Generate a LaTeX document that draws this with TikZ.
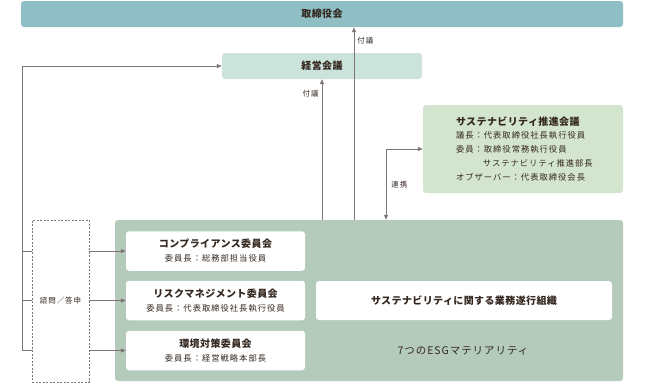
\documentclass[tikz,border=0pt]{standalone}
\usepackage{fontspec}
\setmainfont{Noto Sans CJK JP}
\newfontfamily\subfont{Noto Sans CJK JP}[LetterSpace=12]
\newfontfamily\ttlfont{Noto Sans CJK JP}[LetterSpace=4]
\newfontfamily\esgfont{Noto Sans CJK JP}[LetterSpace=9]
\usetikzlibrary{arrows.meta}
\definecolor{boardblue}{HTML}{8FBEC5}
\definecolor{mgmtgreen}{HTML}{CCE3DC}
\definecolor{councilgreen}{HTML}{D4E5CF}
\definecolor{orggreen}{HTML}{B4CBBB}
\definecolor{wire}{HTML}{7F7572}
\definecolor{ink}{HTML}{33271F}
\newcommand{\ttl}{\fontsize{10}{12}\ttlfont\bfseries}
\newcommand{\sub}{\fontsize{8.3}{10}\subfont}
\tikzset{
  box/.style={rounded corners=3pt, inner sep=0pt, text=ink, align=center},
  wbox/.style={box, fill=white, minimum width=179pt, minimum height=39.5pt},
  wirel/.style={draw=wire, line width=0.8pt},
  arr/.style={wirel, -{Triangle[length=5pt,width=4pt]}},
  tag/.style={font=\fontsize{7.5}{9}\subfont, text=ink, inner sep=1pt},
}

\begin{document}
\begin{tikzpicture}[x=1pt, y=-1pt]
  \useasboundingbox (0,0) rectangle (645,383);
  \node[box, fill=boardblue, minimum width=602pt, minimum height=26pt, font=\ttl] (board) at (322,14) {取締役会};
  \node[box, fill=mgmtgreen, minimum width=200pt, minimum height=26pt, font=\ttl] (mgmt) at (322,66) {経営会議};
  \node[box, fill=councilgreen, minimum width=200pt, minimum height=88pt, text width=134pt, inner xsep=33pt, align=left] (council) at (523,149)
    {{\ttl サステナビリティ推進会議}\\[1pt]
     {\sub 議長：代表取締役社長執行役員}\\[2pt]
     {\sub 委員：取締役常務執行役員}\\[2pt]
     {\sub \phantom{委員：}サステナビリティ推進部長}\\[2pt]
     {\sub オブザーバー：代表取締役会長}};
  \node[box, fill=orggreen, minimum width=508pt, minimum height=161pt] (org) at (369,300.5) {};
  \node[wbox] (comp) at (215.5,251) {{\ttl コンプライアンス委員会}\\[2pt]{\sub 委員長：総務部担当役員}};
  \node[wbox] (risk) at (215.5,300.5) {{\ttl リスクマネジメント委員会}\\[2pt]{\sub 委員長：代表取締役社長執行役員}};
  \node[wbox] (env) at (215.5,350.5) {{\ttl 環境対策委員会}\\[2pt]{\sub 委員長：経営戦略本部長}};
  \node[box, fill=white, minimum width=296pt, minimum height=39pt, font=\ttl] (bizorg) at (464,300.5) {サステナビリティに関する業務遂行組織};
  \node[text=ink, font=\fontsize{10.5}{12}\esgfont] (esg) at (463,351) {7つのESGマテリアリティ};
  \node[draw=wire, line width=0.8pt, dash pattern=on 2pt off 1.5pt, minimum width=57pt, minimum height=162pt, inner sep=0pt, tag] (consult) at (60.5,301) {諮問／答申};

  \coordinate (upB) at (354,220);
  \coordinate (link) at (386,149);
  \coordinate (lt) at (22,66);
  \draw[arr] (mgmt.south |- org.north) -- node[tag, pos=0.9, left=2pt] (tagA) {付議} (mgmt.south);
  \draw[arr] (upB) -- node[tag, pos=0.93, right=2pt] (tagB) {付議} (upB |- board.south);
  \draw[wirel, {Triangle[length=5pt,width=4pt]}-{Triangle[length=5pt,width=4pt]}] (link |- org.north) -- node[tag, pos=0.5, right=4pt] (tagC) {連携} (link) -- (council.west);
  \draw[arr] (lt) -- (mgmt.west);
  \draw[wirel] (lt) -- (lt |- env.west);
  \foreach \n in {comp,risk,env} {
    \draw[wirel] (lt |- \n.west) -- (consult.west |- \n.west);
    \draw[arr] (consult.east |- \n.west) -- (\n.west);
  }
\end{tikzpicture}
\end{document}
